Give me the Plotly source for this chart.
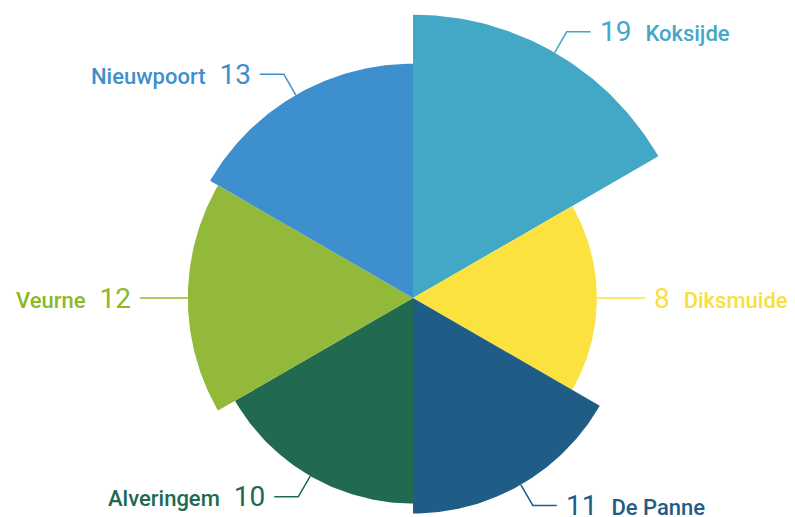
import numpy as np
import plotly.graph_objects as go

# data
gemeenten = ["Koksijde", "Diksmuide", "De Panne", "Alveringem", "Veurne", "Nieuwpoort"]
aantallen = [19, 8, 11, 10, 12, 13]
kleuren = ["#43A8C6", "#FBE23F", "#1F5D87", "#21694F", "#93B93B", "#3E8FCE"]
tekstkleuren = ["#43A8C6", "#F9DF3A", "#1F5D87", "#21694F", "#8DB82A", "#3E8FCE"]

# figure is drawn inside the page's default 8px body margin
W, H = 787, 509
cx, cy = 405, 290      # centre of the rose in figure pixels
k = 65                 # pixels per sqrt-unit (sector area ~ value)

fig = go.Figure()

# sectors: 60 degrees each, clockwise from north, radius ~ sqrt(value)
for i, (naam, n, kl) in enumerate(zip(gemeenten, aantallen, kleuren)):
    r = k * np.sqrt(n)
    t = np.radians(np.linspace(60 * i, 60 * (i + 1), 80))
    xs = np.concatenate([[0], r * np.sin(t), [0]])
    ys = np.concatenate([[0], r * np.cos(t), [0]])
    fig.add_trace(go.Scatter(x=xs, y=ys, mode="lines", fill="toself",
                             fillcolor=kl, line=dict(width=0, color=kl),
                             hoverinfo="skip", showlegend=False))

# leader lines and labels
for i, (naam, n, kl) in enumerate(zip(gemeenten, aantallen, tekstkleuren)):
    t = np.radians(30 + 60 * i)
    s, c = np.sin(t), np.cos(t)
    r = k * np.sqrt(n)
    x0, y0 = r * s, r * c
    x1, y1 = x0 + 24 * s, y0 + 24 * c
    kant = 1 if s > 0.01 else -1
    x2 = x1 + kant * 24
    fig.add_trace(go.Scatter(x=[x0, x1, x2], y=[y0, y1, y1], mode="lines",
                             line=dict(color=kl, width=1.5),
                             hoverinfo="skip", showlegend=False))
    waarde = f"<span style='font-size:28px'>{n}</span>"
    tussen = "<span style='font-size:28px'>&nbsp;&nbsp;</span>"
    label = f"<span style='font-size:22px;font-weight:500'>{naam}</span>"
    tekst = waarde + tussen + label if kant > 0 else label + tussen + waarde
    fig.add_annotation(x=x2 + kant * 7, y=y1, text=tekst, showarrow=False,
                       xanchor="left" if kant > 0 else "right", yanchor="middle",
                       font=dict(color=kl, family="Roboto"))

fig.update_layout(
    width=W, height=H,
    margin=dict(l=0, r=0, t=0, b=0),
    paper_bgcolor="white", plot_bgcolor="white",
    font_family="Roboto",
    xaxis=dict(range=[-cx, W - cx], visible=False, fixedrange=True),
    yaxis=dict(range=[-(H - cy), cy], visible=False, fixedrange=True),
)

fig.write_html("out.html")
